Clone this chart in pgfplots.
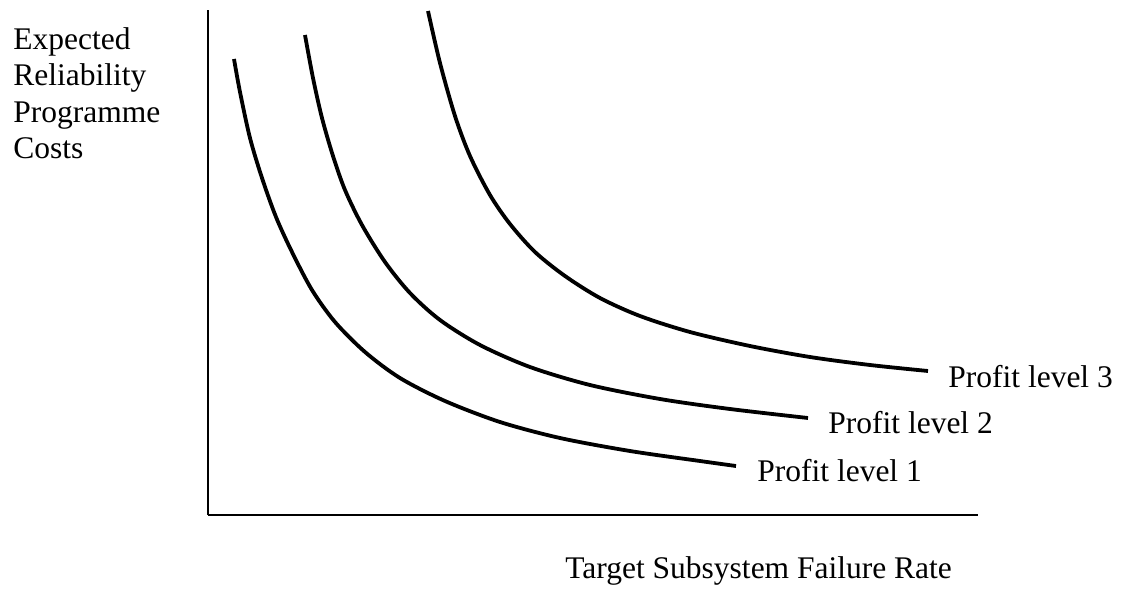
\documentclass[border=0pt]{standalone}
\usepackage{pgfplots}
\pgfplotsset{compat=1.18}
\usepackage{fontspec}
\setmainfont{Liberation Serif}
\begin{document}
\fontsize{15.75}{18}\selectfont
\begin{tikzpicture}
\begin{axis}[
  scale only axis,
  width=385pt, height=252.5pt,
  xmin=208, xmax=978, ymin=-515, ymax=-10,
  enlargelimits=false,
  axis lines=left,
  axis line style={-, line width=1pt, black},
  xtick=\empty, ytick=\empty,
  clip=false,
]
\path (axis cs:0,0) rectangle (axis cs:1123,-590);
% Profit level 1
\addplot[black, line width=1.9pt, smooth, no marks] coordinates {(234,-59)(240,-92)(250,-138)(262,-178)(276,-217)(292,-252)(312,-290)(335,-322)(365,-352)(400,-378)(445,-401)(500,-422)(560,-438)(630,-451)(700,-461)(736,-466)};
% Profit level 2
\addplot[black, line width=1.9pt, smooth, no marks] coordinates {(305,-35)(313,-78)(322,-118)(333,-156)(345,-190)(362,-225)(385,-262)(410,-293)(440,-320)(480,-345)(530,-367)(590,-385)(660,-399)(730,-409)(808,-418)};
% Profit level 3
\addplot[black, line width=1.9pt, smooth, no marks] coordinates {(428,-11)(440,-63)(455,-116)(470,-156)(490,-195)(510,-224)(535,-252)(565,-276)(600,-298)(640,-316)(690,-332)(750,-346)(810,-357)(870,-365)(928,-371)};
\node[anchor=west, inner sep=0] at (axis cs:948,-377) {Profit level 3};
\node[anchor=west, inner sep=0] at (axis cs:828,-423) {Profit level 2};
\node[anchor=west, inner sep=0] at (axis cs:757,-471) {Profit level 1};
\node[anchor=base west, inner sep=0] at (axis cs:13,-50) {Expected};
\node[anchor=base west, inner sep=0] at (axis cs:13,-86) {Reliability};
\node[anchor=base west, inner sep=0] at (axis cs:13,-122) {Programme};
\node[anchor=base west, inner sep=0] at (axis cs:13,-158) {Costs};
\node[anchor=base west, inner sep=0] at (axis cs:565,-578) {Target Subsystem Failure Rate};
\end{axis}
\end{tikzpicture}
\end{document}
